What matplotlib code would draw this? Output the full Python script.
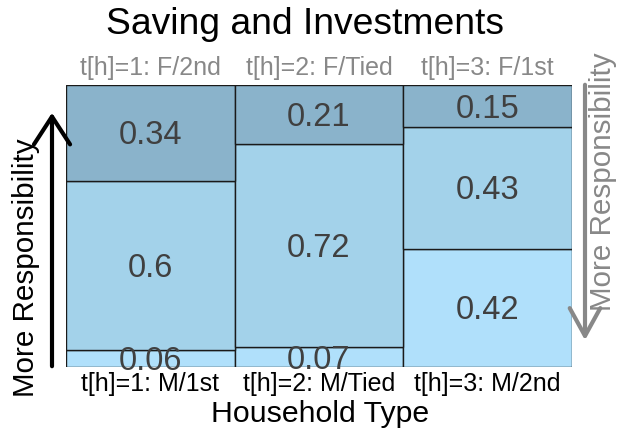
import matplotlib
matplotlib.use("Agg")
import matplotlib.pyplot as plt
import numpy as np

plt.rcParams['font.family'] = ['Liberation Sans', 'DejaVu Sans']

top_labels = ["t[h]=1: F/2nd", "t[h]=2: F/Tied", "t[h]=3: F/1st"]
bottom_labels = ["t[h]=1: M/1st", "t[h]=2: M/Tied", "t[h]=3: M/2nd"]
bottom_vals = [0.06, 0.07, 0.42]
mid_vals = [0.60, 0.72, 0.43]
top_vals = [0.34, 0.21, 0.15]
colors = ["#b0e0fb", "#a3d2ea", "#8ab3cb"]

W, H = 620, 434
fig = plt.figure(figsize=(W/100, H/100), dpi=100)
ax = fig.add_axes([66/W, 1-367/H, (572-66)/W, (367-85)/H])

x = np.arange(3)
bottoms = np.zeros(3)
for vals, c in zip([bottom_vals, mid_vals, top_vals], colors):
    vals = np.array(vals)
    ax.bar(x, vals, width=1.0, bottom=bottoms, color=c, edgecolor="#1a1a1a", linewidth=1.0)
    for xi, v, b in zip(x, vals, bottoms):
        ax.annotate(f"{v:g}", (xi, b + v/2), xytext=(0, -2.2), textcoords="offset points",
                    ha="center", va="center", fontsize=23.5, color="#404040")
    bottoms = bottoms + vals

ax.set_xlim(-0.5, 2.5)
ax.set_ylim(0, 1)
ax.set_xticks([])
ax.set_yticks([])
for s in ax.spines.values():
    s.set_visible(False)

for xi, t in zip(x, top_labels):
    ax.text(xi, 1.0 + 17/282, t, ha="center", va="center", fontsize=18, color="#888888",
            transform=ax.get_xaxis_transform())
for xi, t in zip(x, bottom_labels):
    ax.text(xi, -17/282, t, ha="center", va="center", fontsize=18, color="black",
            transform=ax.get_xaxis_transform())

fig.text(0.492, 1-25/H, "Saving and Investments", ha="center", va="center", fontsize=26.8)
fig.text(320/W, 1-414/H, "Household Type", ha="center", va="center", fontsize=21.8)

# left arrow
fig.add_artist(matplotlib.patches.FancyArrowPatch((52/W, 1-369/H), (52/W, 1-110/H),
               transform=fig.transFigure, arrowstyle="->,head_length=20,head_width=13",
               color="black", linewidth=3, mutation_scale=1))
fig.text(26/W, 1-268/H, "More Responsibility", rotation=90, ha="center", va="center",
         fontsize=21.3, color="black")

# right arrow
fig.add_artist(matplotlib.patches.FancyArrowPatch((585/W, 1-82/H), (585/W, 1-343/H),
               transform=fig.transFigure, arrowstyle="->,head_length=20,head_width=11",
               color="#888888", linewidth=3, mutation_scale=1))
fig.text(603/W, 1-182/H, "More Responsibility", rotation=90, ha="center", va="center",
         fontsize=21.3, color="#888888")

fig.savefig("out.png", dpi=100)
